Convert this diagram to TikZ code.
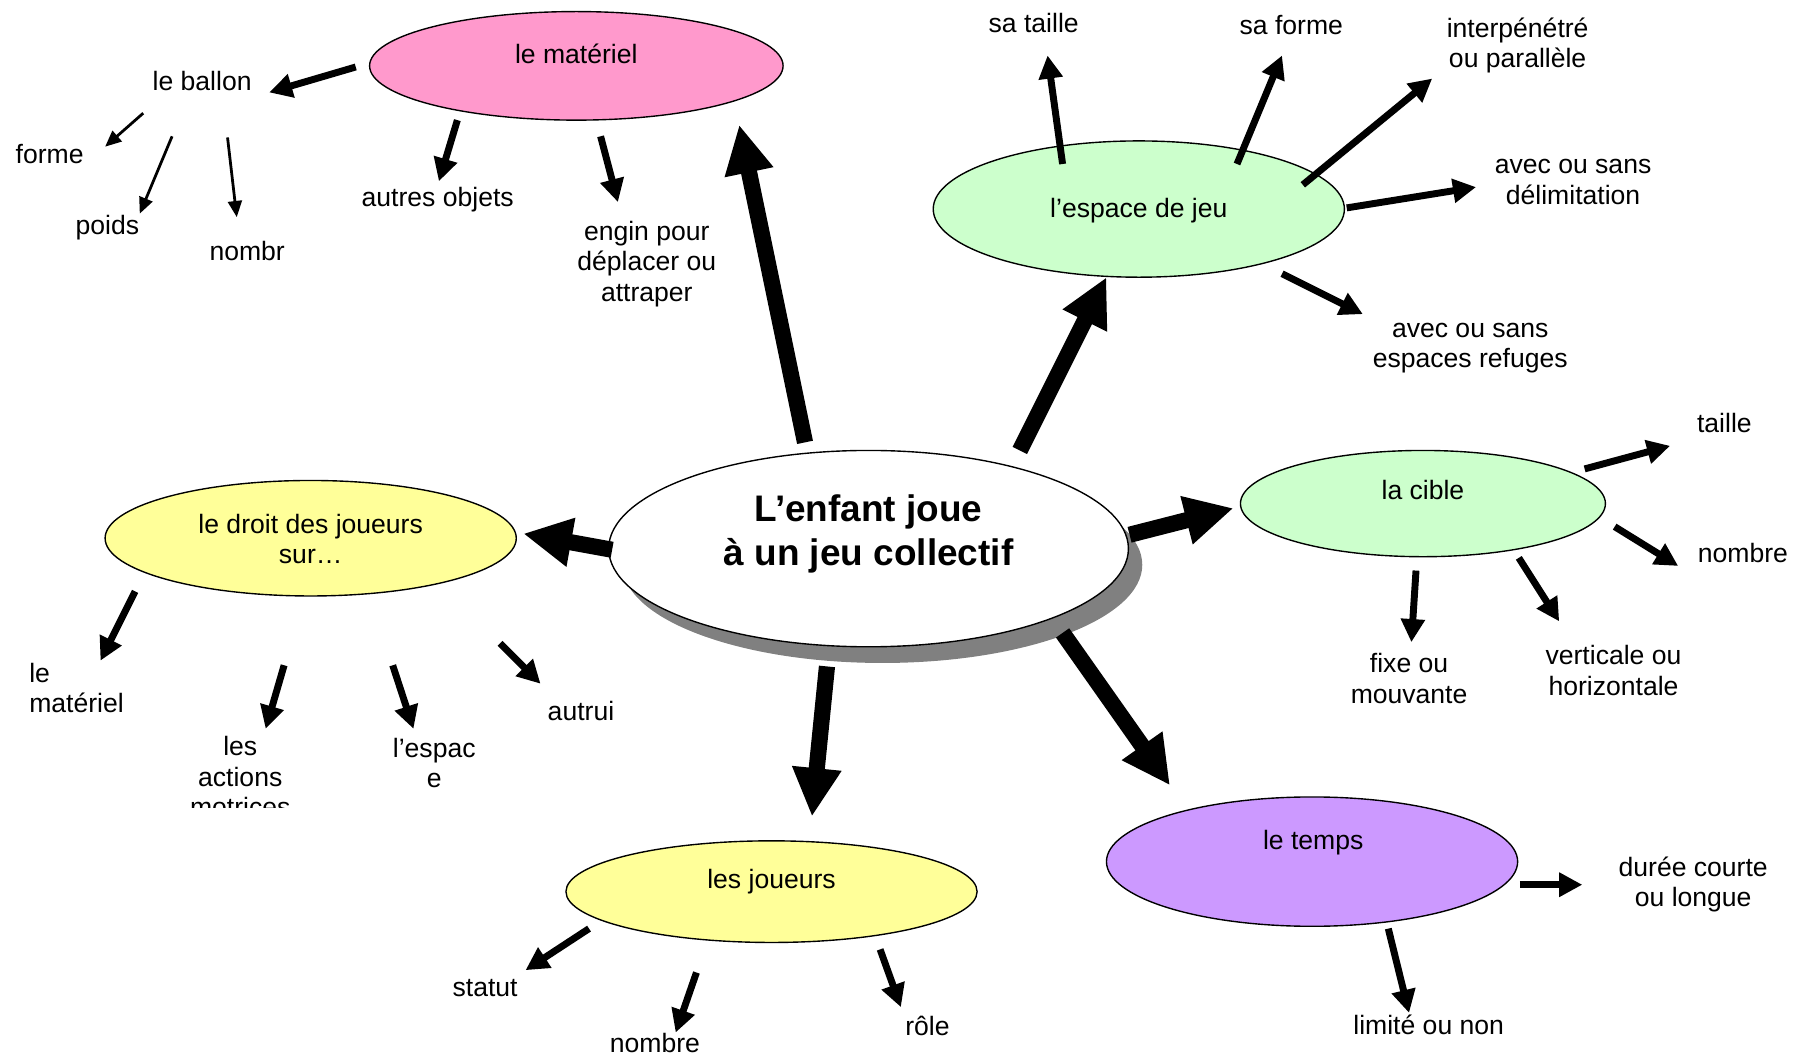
\documentclass[tikz,border=0pt]{standalone}
\usepackage{fontspec}
\setmainfont{Liberation Sans}
\usetikzlibrary{arrows.meta,shapes.geometric}
\definecolor{pinkfill}{HTML}{FF99CC}
\definecolor{greenfill}{HTML}{CCFFCC}
\definecolor{yellowfill}{HTML}{FFFF99}
\definecolor{purplefill}{HTML}{CC99FF}
\definecolor{shadowgray}{HTML}{808080}
\begin{document}
\begin{tikzpicture}[x=0.5pt,y=-0.5pt,
  bubble/.style={ellipse,draw=black,line width=0.6pt,inner sep=0pt},
  lbl/.style={font=\fontsize{11.5}{13.1}\selectfont,align=center,inner sep=0pt,yshift=-1.25pt},
  title/.style={font=\fontsize{16}{19}\selectfont\bfseries,align=center,inner sep=0pt,yshift=-1.5pt},
  bigarrow/.style={line width=7pt,-{Triangle[length=21pt,width=20pt]}},
  midarrow/.style={line width=3pt,-{Triangle[length=10pt,width=10pt]}},
  thinarrow/.style={line width=1.2pt,-{Triangle[length=7pt,width=6pt]}},
]
\useasboundingbox (0,0) rectangle (1568,916);

% ---------- bubbles ----------
\node[ellipse,fill=shadowgray,inner sep=0pt,minimum width=225pt,minimum height=85pt] (censhadow) at (764,489) {};
\node[bubble,fill=white,minimum width=225pt,minimum height=85pt] (cen) at (752,475) {};
\node[title] (centext) at (752,459) {L’enfant joue\\à un jeu collectif};

\node[bubble,fill=pinkfill,minimum width=179pt,minimum height=47pt] (mat) at (499,57) {};
\node[lbl] (mattext) at (499,44) {le matériel};

\node[bubble,fill=greenfill,minimum width=178pt,minimum height=59pt] (esp) at (986,181) {};
\node[lbl] (esptext) at (986,180) {l’espace de jeu};

\node[bubble,fill=greenfill,minimum width=158pt,minimum height=46pt] (cib) at (1232,436) {};
\node[lbl] (cibtext) at (1232,422) {la cible};

\node[bubble,fill=purplefill,minimum width=178pt,minimum height=56pt] (tps) at (1136,746) {};
\node[lbl] (tpstext) at (1137,727) {le temps};

\node[bubble,fill=yellowfill,minimum width=178pt,minimum height=44pt] (jou) at (668,772) {};
\node[lbl] (joutext) at (668,761) {les joueurs};

\node[bubble,fill=yellowfill,minimum width=178pt,minimum height=50pt] (dro) at (269,466) {};
\node[lbl] (drotext) at (269,464) {le droit des joueurs\\sur…};

% ---------- leaf labels ----------
\node[lbl] (ballon) at (175,68) {le ballon};
\node[lbl] (forme) at (43,131) {forme};
\node[lbl] (poids) at (93,195) {poids};
\node[lbl] (nombr) at (214,215) {nombr};
\node[lbl] (autres) at (379,170) {autres objets};
\node[lbl] (engin) at (560,226) {engin pour\\déplacer ou\\attraper};

\node[lbl] (sataille) at (895,17) {sa taille};
\node[lbl] (saforme) at (1118,19) {sa forme};
\node[lbl] (interp) at (1314,37) {interpénétré\\ou parallèle};
\node[lbl] (delim) at (1362,155) {avec ou sans\\délimitation};
\node[lbl] (refuges) at (1273,299) {avec ou sans\\espaces refuges};

\node[lbl] (taille) at (1493,364) {taille};
\node[lbl] (nombrecib) at (1509,476) {nombre};
\node[lbl] (fixe) at (1220,585) {fixe ou\\mouvante};
\node[lbl] (vert) at (1397,578) {verticale ou\\horizontale};

\node[lbl] (duree) at (1466,763) {durée courte\\ou longue};
\node[lbl] (limite) at (1237,885) {limité ou non};

\node[lbl] (statut) at (420,853) {statut};
\node[lbl,yshift=1.25pt] (nombrejou) at (567,903) {nombre};
\node[lbl] (role) at (803,886) {rôle};

\node[lbl,align=left,anchor=west] (matdro) at (25,593) {le\\matériel};
\begin{scope}
  \clip (120,600) rectangle (300,699);
  \node[lbl] (actions) at (208,670) {les\\actions\\motrices};
\end{scope}
\node[lbl] (espdro) at (376,658) {l’espac\\e};
\node[lbl] (autrui) at (503,613) {autrui};

% ---------- arrow end points ----------
\coordinate (c1s) at (697,383);  \coordinate (c1e) at (640,108);
\coordinate (c2s) at (883,390);  \coordinate (c2e) at (958,240);
\coordinate (c3s) at (530,476);  \coordinate (c3e) at (453,462);
\coordinate (c4s) at (978,463);  \coordinate (c4e) at (1068,440);
\coordinate (c5s) at (716,577);  \coordinate (c5e) at (703,707);
\coordinate (c6s) at (920,548);  \coordinate (c6e) at (1013,680);

\coordinate (m1s) at (308,58);   \coordinate (m1e) at (233,80);
\coordinate (m2s) at (396,104);  \coordinate (m2e) at (380,157);
\coordinate (m3s) at (520,118);  \coordinate (m3e) at (535,175);

\coordinate (b1s) at (124,98);   \coordinate (b1e) at (91,127);
\coordinate (b2s) at (149,118);  \coordinate (b2e) at (121,185);
\coordinate (b3s) at (197,119);  \coordinate (b3e) at (205,188);

\coordinate (e1s) at (920,142);  \coordinate (e1e) at (907,48);
\coordinate (e2s) at (1071,142); \coordinate (e2e) at (1110,48);
\coordinate (e3s) at (1128,160); \coordinate (e3e) at (1240,68);
\coordinate (e4s) at (1166,180); \coordinate (e4e) at (1278,162);
\coordinate (e5s) at (1110,237); \coordinate (e5e) at (1180,272);

\coordinate (k1s) at (1372,406); \coordinate (k1e) at (1446,386);
\coordinate (k2s) at (1398,456); \coordinate (k2e) at (1453,490);
\coordinate (k3s) at (1315,483); \coordinate (k3e) at (1350,538);
\coordinate (k4s) at (1226,494); \coordinate (k4e) at (1222,556);

\coordinate (t1s) at (1316,766); \coordinate (t1e) at (1370,766);
\coordinate (t2s) at (1202,804); \coordinate (t2e) at (1220,877);

\coordinate (j1s) at (510,804);  \coordinate (j1e) at (455,840);
\coordinate (j2s) at (603,842);  \coordinate (j2e) at (585,894);
\coordinate (j3s) at (762,822);  \coordinate (j3e) at (780,872);

\coordinate (d1s) at (117,512);  \coordinate (d1e) at (87,572);
\coordinate (d2s) at (246,576);  \coordinate (d2e) at (230,631);
\coordinate (d3s) at (340,576);  \coordinate (d3e) at (358,631);
\coordinate (d4s) at (433,557);  \coordinate (d4e) at (468,592);

% ---------- arrows from the central bubble ----------
\draw[bigarrow] (c1s) -- (c1e);
\draw[bigarrow] (c2s) -- (c2e);
\draw[bigarrow] (c3s) -- (c3e);
\draw[bigarrow] (c4s) -- (c4e);
\draw[bigarrow] (c5s) -- (c5e);
\draw[bigarrow] (c6s) -- (c6e);

% ---------- arrows to the details ----------
\foreach \a in {m1,m2,m3,e1,e2,e3,e4,e5,k1,k2,k3,k4,t1,t2,j1,j2,j3,d1,d2,d3,d4}
  \draw[midarrow] (\a s) -- (\a e);
\foreach \a in {b1,b2,b3}
  \draw[thinarrow] (\a s) -- (\a e);
\end{tikzpicture}
\end{document}
